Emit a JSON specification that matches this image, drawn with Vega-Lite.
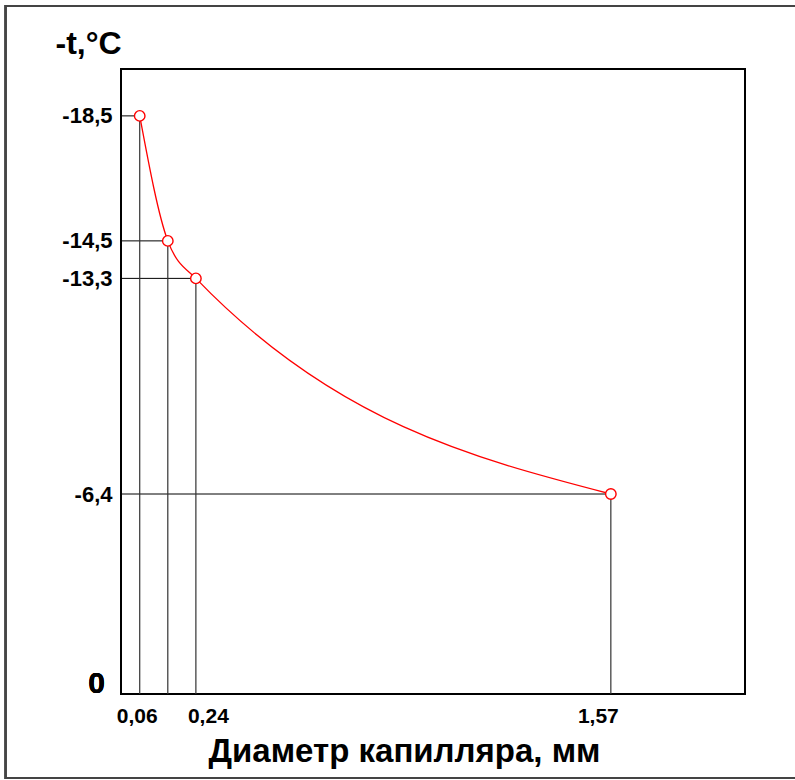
{
  "$schema": "https://vega.github.io/schema/vega-lite/v6.json",
  "autosize": {"type": "none"},
  "padding": {"left": 121, "top": 69, "right": 50, "bottom": 86},
  "width": 624,
  "height": 625,
  "background": "white",
  "config": {
    "view": {"stroke": "black", "strokeWidth": 2},
    "font": "Liberation Sans"
  },
  "data": {"values": [
    {"d": 0.06, "t": 18.5},
    {"d": 0.15, "t": 14.5},
    {"d": 0.24, "t": 13.3},
    {"d": 1.57, "t": 6.4}
  ]},
  "encoding": {
    "x": {
      "field": "d", "type": "quantitative",
      "scale": {"domain": [0, 2], "nice": false, "zero": false},
      "axis": {
        "title": "Диаметр капилляра, мм",
        "titleFont": "Liberation Sans", "titleFontSize": 33, "titleFontWeight": "bold", "titleColor": "black",
        "titleAnchor": "start", "titleAlign": "center", "titleBaseline": "alphabetic",
        "titleX": 283, "titleY": 67,
        "values": [0.06, 0.24, 1.57],
        "labelExpr": "replace(format(datum.value, '.2f'), '.', ',')",
        "labelFont": "Liberation Sans", "labelFontSize": 21, "labelFontWeight": "bold", "labelColor": "black",
        "labelPadding": 11, "labelFlush": false,
        "labelOffset": {"condition": [{"test": "datum.value == 0.24", "value": 12}, {"test": "datum.value == 1.57", "value": -13}], "value": -3},
        "domain": false, "ticks": false, "grid": false
      }
    },
    "y": {
      "field": "t", "type": "quantitative",
      "scale": {"domain": [0, 20], "nice": false, "zero": false},
      "axis": {
        "title": "-t,°C",
        "titleFont": "Liberation Sans", "titleFontSize": 32, "titleFontWeight": "bold", "titleColor": "black",
        "titleAngle": 0, "titleAlign": "left", "titleBaseline": "alphabetic",
        "titleX": -66, "titleY": -16,
        "values": [6.4, 13.3, 14.5, 18.5],
        "labelExpr": "'-' + replace(format(datum.value, '.1f'), '.', ',')",
        "labelFont": "Liberation Sans", "labelFontSize": 22, "labelFontWeight": "bold", "labelColor": "black",
        "labelPadding": 9, "labelFlush": false,
        "domain": false, "ticks": false, "grid": false
      }
    }
  },
  "layer": [
    {
      "mark": {"type": "rect", "fill": null, "stroke": "#444444", "strokeWidth": 2, "clip": false},
      "encoding": {
        "x": {"datum": -0.37},
        "x2": {"datum": 2.3},
        "y": {"datum": 22.02},
        "y2": {"datum": -2.69}
      }
    },
    {
      "mark": {"type": "rule", "color": "black", "strokeWidth": 1},
      "encoding": {
        "x": {"datum": 0},
        "x2": {"field": "d"}
      }
    },
    {
      "mark": {"type": "rule", "color": "#333333", "strokeWidth": 1.2},
      "encoding": {
        "y2": {"datum": 0}
      }
    },
    {
      "mark": {"type": "line", "color": "#ff0000", "strokeWidth": 1.3, "interpolate": "monotone"},
      "encoding": {}
    },
    {
      "mark": {"type": "point", "shape": "circle", "filled": true, "fill": "white", "stroke": "#ff0000", "strokeWidth": 1.4, "size": 110, "opacity": 1},
      "encoding": {}
    },
    {
      "mark": {"type": "text", "text": "0", "font": "Liberation Sans", "fontSize": 30, "fontWeight": "bold", "color": "black", "align": "right", "baseline": "alphabetic", "dx": -16, "dy": -1},
      "encoding": {
        "x": {"datum": 0},
        "y": {"datum": 0}
      }
    }
  ]
}
